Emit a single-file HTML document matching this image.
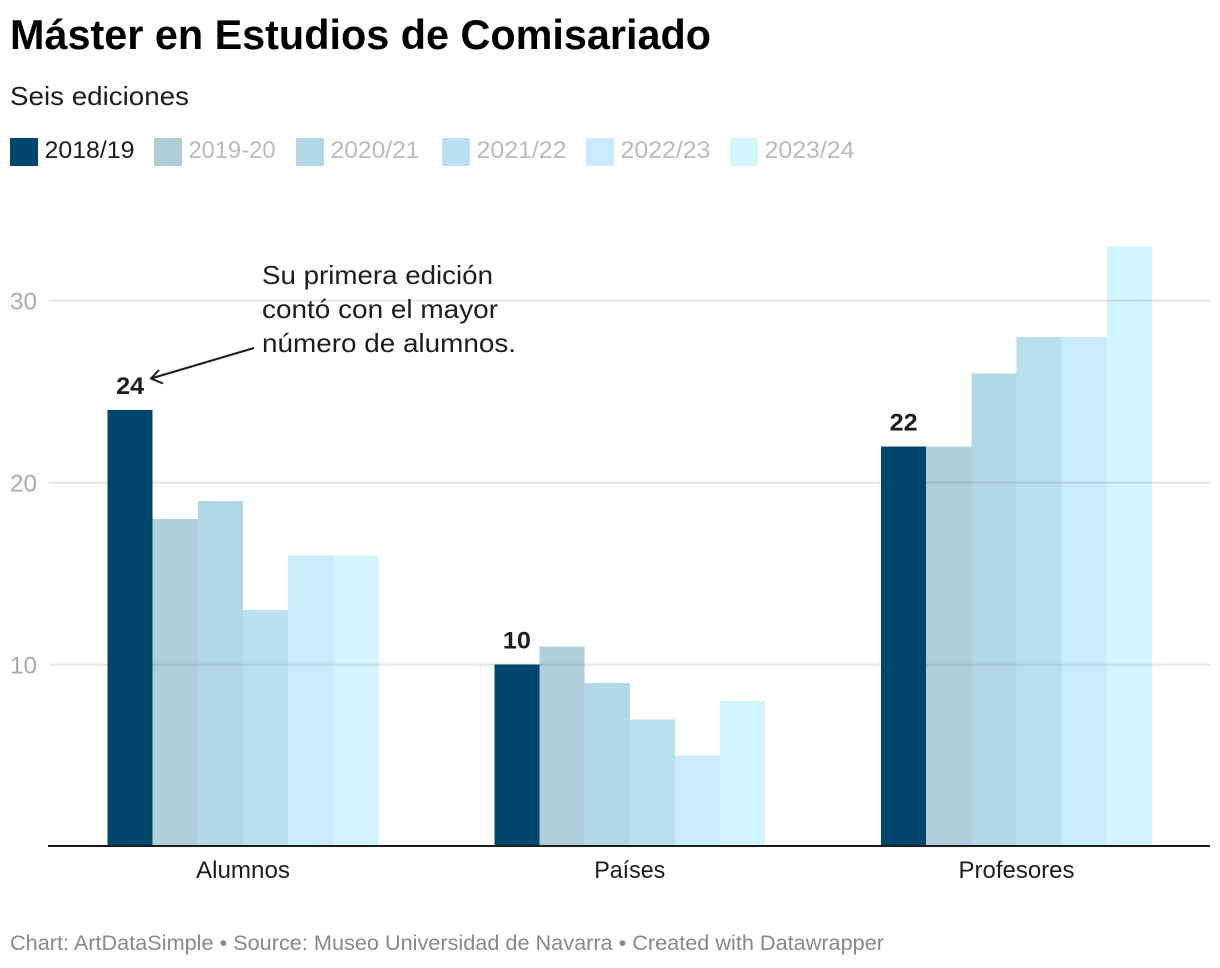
<!DOCTYPE html>
<html lang="es">
<head>
<meta charset="utf-8">
<title>Máster en Estudios de Comisariado</title>
<style>
html,body{margin:0;padding:0;background:#fff;}
svg{display:block;font-family:"Liberation Sans",sans-serif;}
.overlay{mix-blend-mode:multiply;}
</style>
</head>
<body>
<svg id="chart" width="1220" height="968" viewBox="0 0 1220 968" xmlns="http://www.w3.org/2000/svg">
  <text x="10" y="49" font-size="42" font-weight="700" fill="#000" textLength="701" lengthAdjust="spacingAndGlyphs">Máster en Estudios de Comisariado</text>
  <text x="10" y="105" font-size="26" fill="#1d1d1d" textLength="179" lengthAdjust="spacingAndGlyphs">Seis ediciones</text>
  <g id="legend"></g>
  <g id="grid"></g>
  <g id="bars" shape-rendering="crispEdges"></g>
  <rect x="48" y="845" width="1162" height="2" fill="#1d1d1d"></rect>
  <g id="xlabels"></g>
  <g id="values"></g>
  <g font-size="26" fill="#1d1d1d">
    <text x="262" y="284" textLength="231" lengthAdjust="spacingAndGlyphs">Su primera edición</text>
    <text x="262" y="318" textLength="236" lengthAdjust="spacingAndGlyphs">contó con el mayor</text>
    <text x="262" y="352" textLength="254" lengthAdjust="spacingAndGlyphs">número de alumnos.</text>
  </g>
  <path d="M254 348 L151 378.5 M159 370 L151 378.5 L163 383.5" fill="none" stroke="#1d1d1d" stroke-width="2"></path>
  <text x="10" y="950" font-size="21" fill="#888" textLength="874" lengthAdjust="spacingAndGlyphs">Chart: ArtDataSimple • Source: Museo Universidad de Navarra • Created with Datawrapper</text>
</svg>
<script>
const categories = ["Alumnos", "Países", "Profesores"];
const seriesNames = ["2018/19", "2019-20", "2020/21", "2021/22", "2022/23", "2023/24"];
const seriesColors = ["#01466d", "#b1cfdb", "#b2d8e6", "#b8e1f0", "#c8ecfb", "#d3f5fe"];
const series2018 = [24, 10, 22];
const series2019 = [18, 11, 22];
const series2020 = [19, 9, 26];
const series2021 = [13, 7, 28];
const series2022 = [16, 5, 28];
const series2023 = [16, 8, 33];
const yTicks = [10, 20, 30];

const allSeries = [series2018, series2019, series2020, series2021, series2022, series2023];
const NS = "http://www.w3.org/2000/svg";
const y = function (v) { return 846.7 - v * 18.2; };
const groupX = function (i) { return 107.6 + i * 386.75; };
const barWidth = 45.14;
const barX = function (c, s) { return groupX(c) + s * barWidth; };
const legendX = [10, 154, 296, 442, 586, 730];
const legendW = [90, 87, 89, 90, 90, 90];

function svgEl(tag, attrs, parent, text) {
  const el = document.createElementNS(NS, tag);
  for (const k in attrs) el.setAttribute(k, attrs[k]);
  if (text !== undefined) el.textContent = text;
  parent.appendChild(el);
  return el;
}

const gridG = document.getElementById("grid");
yTicks.forEach(function (t) {
  const line = svgEl("rect", { x: 49, y: y(t) - 1, width: 1161, height: 2, fill: "#e5e5e5" }, gridG);
  
  
  const label = svgEl("text", { x: 10, y: y(t) + 9, "font-size": 24, fill: "#aaaaaa", textLength: 27, lengthAdjust: "spacingAndGlyphs" }, gridG, String(t));
  
  
});

const barsG = document.getElementById("bars");
const valuesG = document.getElementById("values");
categories.forEach(function (cat, c) {
  allSeries.forEach(function (vals, s) {
    const bar = svgEl("rect", {
      x: barX(c, s), y: y(vals[c]), width: barWidth,
      height: 845 - y(vals[c]), fill: seriesColors[s]
    }, barsG);
    if (s > 0) bar.setAttribute("class", "overlay");
    
    
  });
  const v = svgEl("text", {
    x: barX(c, 0) + barWidth / 2, y: y(series2018[c]) - 16, "font-size": 24, "font-weight": 700,
    fill: "#1d1d1d", "text-anchor": "middle", textLength: 28, lengthAdjust: "spacingAndGlyphs"
  }, valuesG, String(series2018[c]));
  
  
});

const catWidths = [94, 71, 116];
const xG = document.getElementById("xlabels");
categories.forEach(function (cat, c) {
  const t = svgEl("text", {
    x: groupX(c) + 3 * barWidth, y: 878, "font-size": 24, fill: "#1d1d1d",
    "text-anchor": "middle", textLength: catWidths[c], lengthAdjust: "spacingAndGlyphs"
  }, xG, cat);
  
  
});

const legendG = document.getElementById("legend");
seriesNames.forEach(function (name, s) {
  const sw = svgEl("rect", { x: legendX[s], y: 138, width: 28, height: 28, fill: seriesColors[s] }, legendG);
  
  
  const t = svgEl("text", {
    x: legendX[s] + 34.5, y: 158, "font-size": 24, fill: s === 0 ? "#1d1d1d" : "#bbbbbb",
    textLength: legendW[s], lengthAdjust: "spacingAndGlyphs"
  }, legendG, name);
  
  
});
</script>
</body>
</html>
